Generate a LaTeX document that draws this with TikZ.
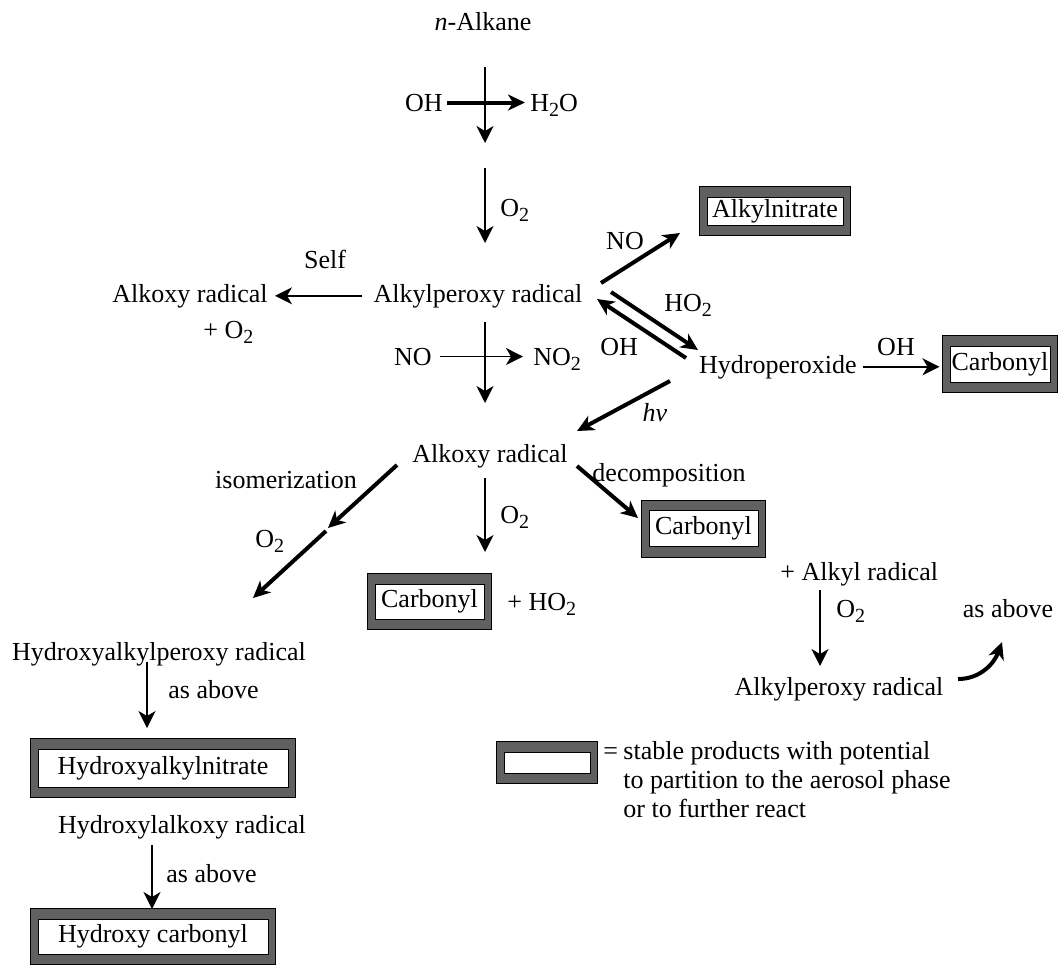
\documentclass[tikz,border=0pt]{standalone}
\usepackage{fontspec}
\setmainfont{Liberation Serif}
\usetikzlibrary{arrows.meta,fit,backgrounds}
\definecolor{prodgray}{HTML}{606060}
\newcommand{\sbs}[1]{\raisebox{-2.5pt}{\fontsize{10}{12}\selectfont#1}}

\begin{document}
\begin{tikzpicture}[x=0.5pt,y=-0.5pt,
  every node/.style={font=\fontsize{13}{15.6}\selectfont,inner sep=0pt},
  T/.style={anchor=base},
  TL/.style={anchor=base west},
  TR/.style={anchor=base east},
  P/.style={draw,line width=0.5pt,fill=white,minimum height=17.5pt,
            minimum width=54.5pt,anchor=center},
  band/.style={draw,line width=0.5pt,fill=prodgray,
               inner xsep=3.5pt,inner ysep=5pt},
  ar/.style={-{Stealth[length=8.5pt,width=8.5pt,inset=2.5pt]},line width=0.75pt},
  ab/.style={-{Stealth[length=8.5pt,width=8pt,inset=2.5pt]},line width=2pt}
]
\useasboundingbox (0,0) rectangle (1063,964);

% main chain
\node[T](alk) at (483,30) {\textit{n}-Alkane};
\node[TR](oha) at (443,111) {OH};
\node[TL](wat) at (530,111) {H\sbs{2}O};
\node[TL](o2a) at (500,216) {O\sbs{2}};
\node[T](rooa) at (478,302) {Alkylperoxy radical};
\node[T](self) at (325,268) {Self};
\node[T](rol) at (190,302) {Alkoxy radical};
\node[TL](po2) at (203,338) {+ O\sbs{2}};
\node[T](noa) at (625,249) {NO};
\node[TL](ho2) at (664,311) {HO\sbs{2}};
\node[TL](ohb) at (600,355) {OH};
\node[TR](hyp) at (857,373) {Hydroperoxide};
\node[T](ohc) at (896,355) {OH};
\node[TR](nob) at (432,365) {NO};
\node[TL](no2) at (533,365) {NO\sbs{2}};
\node[T](hv) at (655,421) {\textit{hv}};
\node[T](ro) at (490,462) {Alkoxy radical};
\node[T](isom) at (286,488) {isomerization};
\node[TL](o2b) at (255,547) {O\sbs{2}};
\node[TL](o2c) at (500,523) {O\sbs{2}};
\node[TL](pho2) at (507,610) {+ HO\sbs{2}};
\node[T](dec) at (669,481) {decomposition};
\node[TL](palk) at (780,580) {+ Alkyl radical};
\node[TL](o2d) at (836,617) {O\sbs{2}};
\node[T](roob) at (839,695) {Alkylperoxy radical};
\node[T](asa) at (1008,617) {as above};
\node[T](hyap) at (159,660) {Hydroxyalkylperoxy radical};
\node[TL](asb) at (168,698) {as above};
\node[T](hyal) at (182,833) {Hydroxylalkoxy radical};
\node[TL](asc) at (166,882) {as above};

% products
\node[P,minimum width=68pt,minimum height=14pt](nitr) at (775,211) {Alkylnitrate};
\node[P,minimum width=50pt,minimum height=18pt](c1) at (1000,364) {Carbonyl};
\node[P](c2) at (429.5,601.5) {Carbonyl};
\node[P,minimum height=18pt](c3) at (703.5,528.5) {Carbonyl};
\node[P,minimum width=125pt,minimum height=19pt](hyan) at (163,768) {Hydroxyalkylnitrate};
\node[P,minimum width=115pt,minimum height=17.5pt](hyc) at (153,936.5) {Hydroxy carbonyl};
\node[P,minimum width=43pt,minimum height=10.5pt](key) at (547,762.5) {};
\node[TL](eq) at (603,759) {=};
\foreach \t [count=\i from 0] in {stable products with potential,
    to partition to the aerosol phase,or to further react}
  \node[TL](key\i) at (623,759+29*\i) {\t};

\begin{scope}[on background layer]
\foreach \n in {nitr,c1,c2,c3,hyan,hyc,key}
  \node[band,fit=(\n)]{};
\end{scope}

% arrows
\coordinate (a1) at (485,67);  \coordinate (a2) at (485,143);
\coordinate (a3) at (485,168); \coordinate (a4) at (485,243);
\coordinate (a5) at (485,322); \coordinate (a6) at (485,403);
\coordinate (a7) at (485,478); \coordinate (a8) at (485,552);
\draw[ar](a1)--(a2);
\draw[ar](a3)--(a4);
\draw[ar](a5)--(a6);
\draw[ar](a7)--(a8);
\draw[ab,shorten <=2pt,shorten >=2.5pt](oha.east)--(oha.east-|wat.west);
\draw[ar,shorten <=4pt,shorten >=5pt](nob.east)--(nob.east-|no2.west);
\draw[ar,shorten <=5.5pt,shorten >=3.5pt](rooa.west)--(rooa.west-|rol.east);
\draw[ar,shorten <=3pt,shorten >=5pt](hyp.east)--(hyp.east-|c1.west);

\coordinate (b1) at (601,283); \coordinate (b2) at (680,233);
\coordinate (b3) at (611,292); \coordinate (b4) at (698,350);
\coordinate (b5) at (686,358); \coordinate (b6) at (597,299);
\coordinate (b7) at (670,381); \coordinate (b8) at (577,431);
\draw[ab](b1)--(b2);
\draw[ab](b3)--(b4);
\draw[ab](b5)--(b6);
\draw[ab](b7)--(b8);

\coordinate (i1) at (397,465); \coordinate (i2) at (328,528);
\coordinate (i3) at (326,531); \coordinate (i4) at (253,598);
\draw[ab](i1)--(i2);
\draw[ab](i3)--(i4);
\coordinate (d1) at (577,466); \coordinate (d2) at (638,518);
\draw[ab](d1)--(d2);

\coordinate (r1) at (820,590); \coordinate (r2) at (820,666);
\draw[ar](r1)--(r2);
\coordinate (r3) at (958,679); \coordinate (r4) at (1002,642);
\draw[ab](r3) to[out=0,in=-110] (r4);

\coordinate (h1) at (147,662); \coordinate (h2) at (147,728);
\coordinate (h3) at (152,845); \coordinate (h4) at (152,909);
\draw[ar](h1)--(h2);
\draw[ar](h3)--(h4);
\end{tikzpicture}
\end{document}
